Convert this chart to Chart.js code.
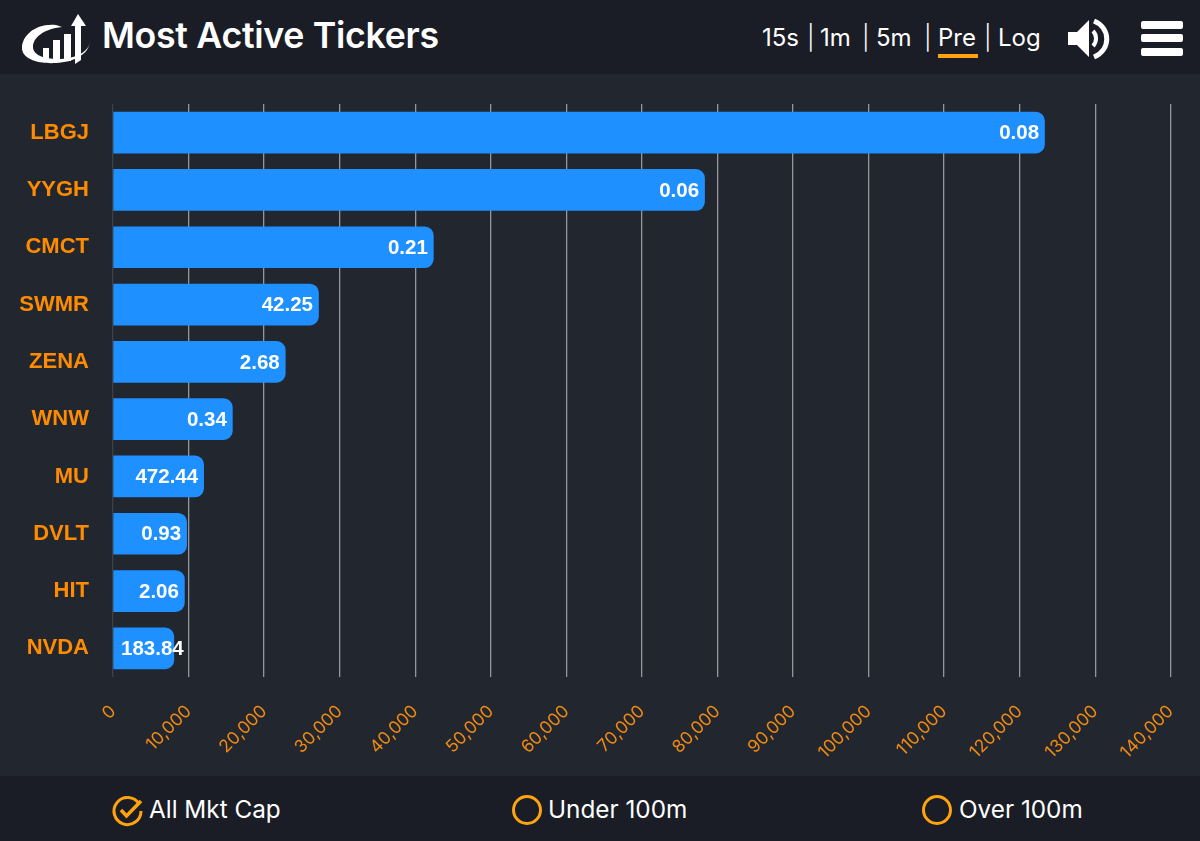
<!DOCTYPE html>
<html>
<head>
<meta charset="utf-8">
<script src="https://cdn.jsdelivr.net/npm/chart.js@4/dist/chart.umd.min.js"></script>
<style>
html,body{margin:0;padding:0;width:1200px;height:841px;overflow:hidden;background:#22262f;font-family:Inter,"Noto Sans",sans-serif;color:#fff}
#header{position:absolute;left:0;top:0;width:1200px;height:74px;background:#1a1d25}
#footer{position:absolute;left:0;top:776px;width:1200px;height:65px;background:#1a1d25}
#wrap{position:absolute;left:0;top:74px;width:1200px;height:702px}
#title{position:absolute;left:102px;top:12px;font-size:35.7px;font-weight:600;line-height:46px;white-space:nowrap;letter-spacing:-0.3px}
.nav{position:absolute;top:23px;font-size:24px;line-height:30px;white-space:nowrap}
.sep{font-weight:300}
#under{position:absolute;left:938px;top:54px;width:40px;height:4px;background:#ffa30f}
.opt{position:absolute;top:794px;font-size:24.3px;line-height:30px;white-space:nowrap}
svg{position:absolute;overflow:visible}
</style>
</head>
<body>
<div id="header">
<svg style="left:20px;top:12px" width="72" height="54" viewBox="0 0 72 54">
 <path d="M36 13C15 11 2 24 2 36C2 47 18 52 36 51C54 50 68 43 70 30C68 41 54 47 38 47C24 47 13 43 13 35C13 26 23 17 42 15Z" fill="#fff"/>
 <rect x="23" y="36" width="6" height="12" fill="#fff"/><rect x="33" y="28" width="7" height="21" fill="#fff"/><rect x="44" y="22" width="7" height="27" fill="#fff"/>
 <path d="M55 52V14H51L58 2L66 14H61V48Z" fill="#fff"/>
</svg>
<div id="title">Most Active Tickers</div>
<div class="nav" style="left:762px">15s</div><div class="nav sep" style="left:807px">|</div>
<div class="nav" style="left:820px">1m</div><div class="nav sep" style="left:862px">|</div>
<div class="nav" style="left:876px">5m</div><div class="nav sep" style="left:924px">|</div>
<div class="nav" style="left:938px">Pre</div><div class="nav sep" style="left:984px">|</div>
<div class="nav" style="left:998px">Log</div>
<div id="under"></div>
<svg style="left:1067px;top:18px" width="44" height="42" viewBox="0 0 44 42">
 <path d="M1 14H10L22 2V39L10 27H1Z" fill="#fff"/>
 <path d="M26 13C30 17 30 24 26 28" fill="none" stroke="#fff" stroke-width="4"/>
 <path d="M27 3C44 10 44 32 27 39" fill="none" stroke="#fff" stroke-width="5"/>
</svg>
<svg style="left:1141px;top:20px" width="42" height="36" viewBox="0 0 42 36">
 <rect x="0" y="1" width="42" height="8" rx="2" fill="#fff"/><rect x="0" y="14" width="42" height="8" rx="2" fill="#fff"/><rect x="0" y="28" width="42" height="8" rx="2" fill="#fff"/>
</svg>
</div>
<div id="wrap"><canvas id="c" width="1200" height="702"></canvas></div>
<div id="footer"></div>
<svg style="left:112px;top:795px" width="32" height="32" viewBox="0 0 32 32">
 <path d="M27 9A13.5 13.5 0 1 0 29 16" fill="none" stroke="#ffa30f" stroke-width="3"/>
 <path d="M9 15L14.5 21L29 6" fill="none" stroke="#ffa30f" stroke-width="3.5"/>
</svg>
<div class="opt" style="left:149px">All Mkt Cap</div>
<svg style="left:512px;top:795px" width="30" height="30"><circle cx="15" cy="15" r="13.5" fill="none" stroke="#ffa30f" stroke-width="3"/></svg>
<div class="opt" style="left:548px">Under 100m</div>
<svg style="left:922px;top:795px" width="30" height="30"><circle cx="15" cy="15" r="13.5" fill="none" stroke="#ffa30f" stroke-width="3"/></svg>
<div class="opt" style="left:959px">Over 100m</div>
<script>
const tickers = ["LBGJ","YYGH","CMCT","SWMR","ZENA","WNW","MU","DVLT","HIT","NVDA"];
const volumes = [123300,78300,42400,27200,22800,15800,12000,9750,9450,8050];
const prices = ["0.08","0.06","0.21","42.25","2.68","0.34","472.44","0.93","2.06","183.84"];
const axisMax = 140000;
const axisStep = 10000;

const priceLabels = {
  id:"priceLabels",
  afterDatasetsDraw(chart){
    const ctx = chart.ctx;
    const bars = chart.getDatasetMeta(0).data;
    ctx.save();
    ctx.font = 'bold 20.5px "Liberation Sans"';
    ctx.fillStyle = "#fff";
    ctx.textAlign = "right";
    ctx.textBaseline = "middle";
    bars.forEach((b,i)=>{
      const w = ctx.measureText(prices[i]).width;
      const right = Math.max(b.x - 5.5, chart.scales.x.left + 8 + w);
      ctx.fillText(prices[i], right, b.y + 1);
    });
    ctx.restore();
  }
};

new Chart(document.getElementById("c"),{
  type:"bar",
  data:{labels:tickers,datasets:[{
    data:volumes,
    backgroundColor:"#1e90ff",
    barThickness:41,
    borderSkipped:"left",
    borderRadius:{topLeft:0,bottomLeft:0,topRight:9,bottomRight:9}
  }]},
  plugins:[priceLabels],
  options:{
    indexAxis:"y",
    responsive:false,
    animation:false,
    layout:{padding:{top:30,right:29.3,left:0,bottom:0}},
    plugins:{legend:{display:false},tooltip:{enabled:false},title:{display:false}},
    scales:{
      x:{
        min:0,max:axisMax,
        afterFit(s){s.height=99;s.paddingRight=0;s.paddingLeft=0;},
        border:{display:false},
        grid:{color:c=>c.index===0?"#3c4048":"#94969a",lineWidth:1.3,drawTicks:false},
        ticks:{
          stepSize:axisStep,
          color:"#f08a12",
          font:{family:"Inter",size:17.5},
          maxRotation:45,minRotation:45,
          padding:24,
          callback:v=>v.toLocaleString("en-US")
        }
      },
      y:{
        afterFit(s){s.width=113;s.paddingTop=0;s.paddingBottom=0;},
        border:{display:false},
        grid:{display:false},
        ticks:{
          color:"#ff8c00",
          font:{family:"Liberation Sans",size:22,weight:"bold"},
          padding:16
        }
      }
    }
  }
});
</script>
</body>
</html>
